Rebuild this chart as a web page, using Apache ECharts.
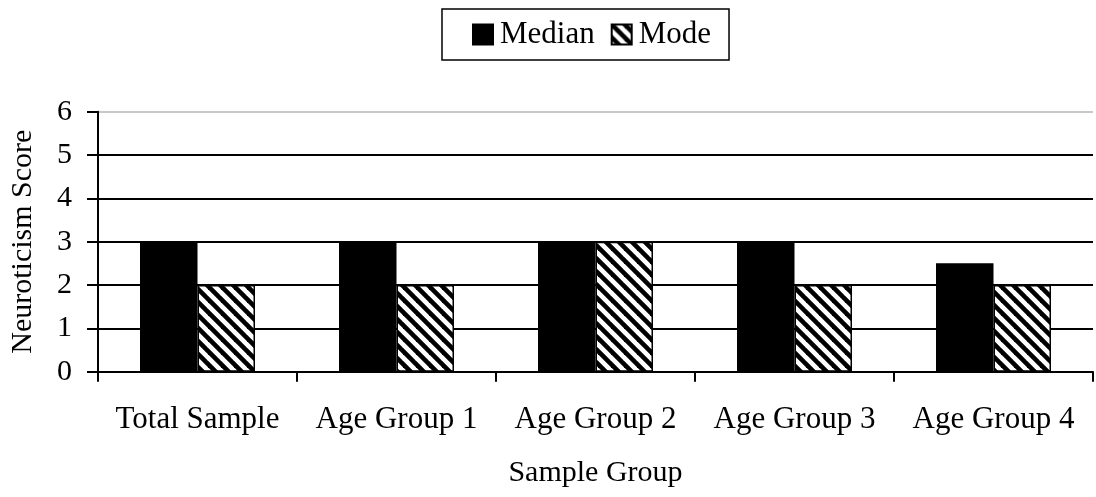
<!DOCTYPE html>
<html>
<head>
<meta charset="utf-8">
<script src="https://cdn.jsdelivr.net/npm/echarts@6/dist/echarts.min.js"></script>
<style>html,body{margin:0;padding:0;background:#fff;}#chart{width:1096px;height:497px;}</style>
</head>
<body>
<div id="chart"></div>
<script>
const categories = ['Total Sample', 'Age Group 1', 'Age Group 2', 'Age Group 3', 'Age Group 4'];
const medianValues = [3, 3, 3, 3, 2.5];
const modeValues = [2, 2, 3, 2, 2];
const yTicks = [0, 1, 2, 3, 4, 5, 6];

const FONT = "'Liberation Serif', 'Times New Roman', serif";

function makeHatch() {
  const s = 13;
  const c = document.createElement('canvas');
  c.width = s; c.height = s;
  const g = c.getContext('2d');
  g.fillStyle = '#fff';
  g.fillRect(0, 0, s, s);
  g.strokeStyle = '#000';
  g.lineWidth = 4.6;
  for (let k = -1; k <= 1; k++) {
    g.beginPath();
    g.moveTo(k * s - 2, -2);
    g.lineTo(k * s + s + 2, s + 2);
    g.stroke();
  }
  return c;
}
const hatch = { image: makeHatch(), repeat: 'repeat' };

const chart = echarts.init(document.getElementById('chart'), null, { renderer: 'canvas' });
chart.setOption({
  animation: false,
  backgroundColor: '#fff',
  textStyle: { fontFamily: FONT, color: '#000' },
  legend: {
    left: 442, top: 9,
    padding: [10, 18, 10, 30],
    borderColor: '#000', borderWidth: 1.5,
    itemWidth: 20, itemHeight: 20, itemGap: 16,
    textStyle: { fontFamily: FONT, fontSize: 31, color: '#000', padding: [0, 0, 0, 2] },
    data: [
      { name: 'Median', icon: 'rect' },
      { name: 'Mode', icon: 'rect' }
    ]
  },
  grid: { left: 98, right: 3, top: 111.7, bottom: 125.3, containLabel: false, outerBoundsMode: 'none' },
  xAxis: {
    type: 'category',
    data: categories,
    name: 'Sample Group',
    nameLocation: 'middle',
    nameGap: 86,
    nameTextStyle: { fontFamily: FONT, fontSize: 30, color: '#000' },
    axisLine: { lineStyle: { color: '#000', width: 2 } },
    axisTick: { show: true, length: 10, lineStyle: { color: '#000', width: 2 } },
    axisLabel: { fontFamily: FONT, fontSize: 31, color: '#000', margin: 33, interval: 0 },
    splitLine: { show: false }
  },
  yAxis: {
    type: 'value',
    min: yTicks[0], max: yTicks[yTicks.length - 1], interval: 1,
    name: 'Neuroticism Score',
    nameLocation: 'middle',
    nameGap: 60,
    nameTextStyle: { fontFamily: FONT, fontSize: 30, color: '#000' },
    axisLine: { show: true, lineStyle: { color: '#000', width: 2 } },
    axisTick: { show: true, length: 11, lineStyle: { color: '#000', width: 2 } },
    axisLabel: { fontFamily: FONT, fontSize: 30, color: '#000', margin: 26 },
    splitLine: { show: true, lineStyle: { color: ['#000', '#000', '#000', '#000', '#000', '#000', '#c8c8c8'], width: 2 } }
  },
  series: [
    {
      name: 'Median', type: 'bar', data: medianValues,
      barWidth: 57.5, barGap: '0%',
      itemStyle: { color: '#000', borderColor: '#000', borderWidth: 1.5 }
    },
    {
      name: 'Mode', type: 'bar', data: modeValues,
      barWidth: 57.5, barGap: '0%',
      itemStyle: { color: hatch, borderColor: '#000', borderWidth: 1.5 }
    }
  ]
});
</script>
</body>
</html>
